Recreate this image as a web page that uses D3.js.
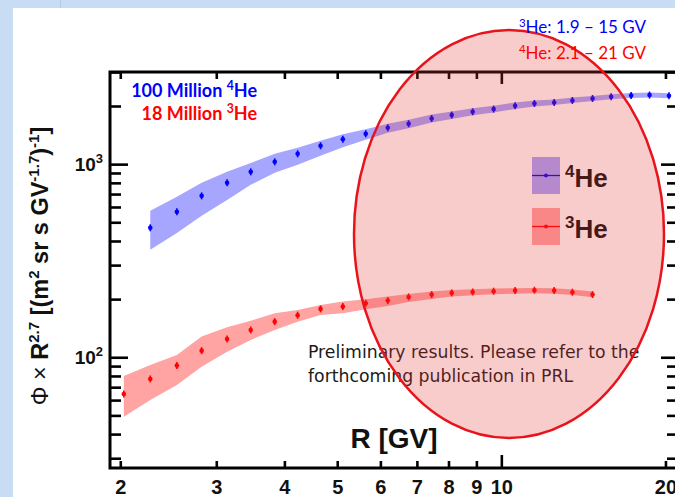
<!DOCTYPE html>
<html>
<head>
<meta charset="utf-8">
<script src="https://cdn.jsdelivr.net/npm/d3@7/dist/d3.min.js"></script>
<style>
  html, body { margin: 0; padding: 0; background: #c8dcf4; }
  svg { display: block; }
</style>
</head>
<body>
<svg id="chart" width="675" height="497"></svg>
<script>
// Helium isotope fluxes (Φ × R^2.7) versus rigidity
const rigidity4He = [2.27, 2.54, 2.82, 3.14, 3.47, 3.84, 4.23, 4.66, 5.12, 5.64, 6.19, 6.76, 7.45, 8.11, 8.86, 9.68, 10.6, 11.5, 12.5, 13.5, 14.7, 15.9, 17.3, 18.7, 20.3];
const flux4He = [468, 566, 685, 800, 912, 1028, 1131, 1244, 1345, 1435, 1542, 1618, 1723, 1795, 1866, 1927, 2005, 2061, 2085, 2136, 2188, 2233, 2268, 2279, 2259];
const band4HeHigh = [573, 677, 800, 912, 1015, 1131, 1215, 1321, 1428, 1514, 1617, 1697, 1807, 1871, 1946, 2004, 2086, 2136, 2161, 2214, 2254, 2301, 2337, 2348, 2327];
const band4HeLow = [360, 440, 540, 653, 781, 902, 992, 1104, 1222, 1336, 1453, 1533, 1643, 1711, 1790, 1853, 1928, 1989, 2024, 2073, 2124, 2167, 2201, 2212, 2193];

const rigidity3He = [2.03, 2.27, 2.54, 2.82, 3.14, 3.47, 3.84, 4.23, 4.66, 5.12, 5.64, 6.19, 6.76, 7.45, 8.11, 8.86, 9.68, 10.6, 11.5, 12.5, 13.5, 14.7];
const flux3He = [64.5, 77.2, 90.5, 108.2, 124.4, 138.5, 152.9, 165.1, 178.0, 182.9, 190.5, 196.5, 205.3, 211.1, 215.4, 217.9, 219.8, 221.4, 222.4, 221.4, 217.2, 211.1];
const band3HeHigh = [80.0, 91.2, 102.8, 128.2, 143.0, 154.7, 169.0, 175.9, 186.6, 194.2, 199.8, 206.1, 212.8, 218.7, 223.2, 225.1, 226.7, 227.8, 228.6, 227.8, 224.0, 218.7];
const band3HeLow = [49.2, 60.1, 71.9, 89.4, 106.9, 122.9, 138.5, 152.9, 165.7, 169.0, 177.3, 184.4, 193.4, 200.5, 206.1, 209.5, 212.0, 213.5, 214.6, 213.5, 210.3, 204.6];

const xTickValues = [2, 3, 4, 5, 6, 7, 8, 9, 10, 20];
const xMajorTicks = [10];
const yMajorTicks = [100, 1000];

const COLOR_4HE = "#0000ff", BAND_4HE = "#a6a6ff";
const COLOR_3HE = "#ff0000", BAND_3HE = "#ffa3a3";

const svg = d3.select("#chart");

// slide background and white panel
svg.append("rect").attr("x", 0).attr("y", 0).attr("width", 675).attr("height", 497).attr("fill", "#c8dcf4");
svg.append("line").attr("x1", 60.5).attr("x2", 60.5).attr("y1", 0).attr("y2", 8).attr("stroke", "#b6cbe6").attr("stroke-width", 1);
svg.append("rect").attr("x", 13).attr("y", 8).attr("width", 662).attr("height", 489).attr("fill", "#ffffff");

const plot = { left: 110, top: 72, right: 677, bottom: 468 };

const x = d3.scaleLog().domain([1.915, 21]).range([plot.left, plot.right]);
const y = d3.scaleLog().domain([26.7, 3000]).range([plot.bottom, plot.top]);

svg.append("clipPath").attr("id", "plotClip")
  .append("rect").attr("x", plot.left).attr("y", plot.top)
  .attr("width", plot.right - plot.left).attr("height", plot.bottom - plot.top);

const g = svg.append("g").attr("clip-path", "url(#plotClip)");

function drawSeries(rig, flux, lo, hi, bandColor, color) {
  const rows = rig.map((r, i) => ({ r, f: flux[i], lo: lo[i], hi: hi[i] }));
  const area = d3.area().x(d => x(d.r)).y0(d => y(d.lo)).y1(d => y(d.hi));
  g.append("path").datum(rows).attr("d", area).attr("fill", bandColor);
  const pts = g.append("g");
  pts.selectAll("line").data(rows).join("line")
    .attr("x1", d => x(d.r)).attr("x2", d => x(d.r))
    .attr("y1", d => y(d.f) - 3.5).attr("y2", d => y(d.f) + 3.5)
    .attr("stroke", color).attr("stroke-width", 1.6);
  pts.selectAll("circle").data(rows).join("circle")
    .attr("cx", d => x(d.r)).attr("cy", d => y(d.f)).attr("r", 2.3)
    .attr("fill", color);
}

drawSeries(rigidity4He, flux4He, band4HeLow, band4HeHigh, BAND_4HE, COLOR_4HE);
drawSeries(rigidity3He, flux3He, band3HeLow, band3HeHigh, BAND_3HE, COLOR_3HE);

// frame and inward ticks
const axes = svg.append("g");
const yMinor = y.ticks().filter(v => !yMajorTicks.includes(v));
const xMinor = xTickValues.filter(v => !xMajorTicks.includes(v));

function tickGroup(axisFn, scale, values, size, transform) {
  const a = axisFn(scale).tickValues(values).tickSize(size).tickFormat("");
  const sel = axes.append("g").attr("transform", transform).call(a);
  sel.select(".domain").remove();
  sel.selectAll(".tick line").attr("stroke", "#000").attr("stroke-width", 2.6);
  return sel;
}
tickGroup(d3.axisLeft, y, yMinor, -11, `translate(${plot.left},0)`);
tickGroup(d3.axisLeft, y, yMajorTicks, -18, `translate(${plot.left},0)`);
tickGroup(d3.axisRight, y, yMinor, -10, `translate(${plot.right},0)`);
tickGroup(d3.axisRight, y, yMajorTicks, -16, `translate(${plot.right},0)`);
tickGroup(d3.axisBottom, x, xMinor, -7, `translate(0,${plot.bottom})`);
tickGroup(d3.axisBottom, x, xMajorTicks, -13, `translate(0,${plot.bottom})`);
tickGroup(d3.axisTop, x, xMinor, -7, `translate(0,${plot.top})`);
tickGroup(d3.axisTop, x, xMajorTicks, -12, `translate(0,${plot.top})`);

axes.append("rect")
  .attr("x", plot.left).attr("y", plot.top)
  .attr("width", plot.right - plot.left).attr("height", plot.bottom - plot.top)
  .attr("fill", "none").attr("stroke", "#000").attr("stroke-width", 3);

// x tick labels
const xLabels = d3.axisBottom(x).tickValues(xTickValues).tickSize(0).tickPadding(0).tickFormat(d3.format("d"));
const xl = svg.append("g").attr("transform", `translate(0,${plot.bottom})`).call(xLabels);
xl.select(".domain").remove();
xl.selectAll(".tick text")
  .attr("y", 26).attr("dy", 0)
  .attr("font-family", "Liberation Sans, Arial, sans-serif")
  .attr("font-weight", "bold").attr("font-size", 20).attr("fill", "#111");

// y tick labels with superscript exponents
const yl = svg.append("g");
yMajorTicks.forEach(v => {
  const t = yl.append("text")
    .attr("x", 103).attr("y", y(v) + 7)
    .attr("text-anchor", "end")
    .attr("font-family", "Liberation Sans, Arial, sans-serif")
    .attr("font-weight", "bold").attr("font-size", 19).attr("fill", "#111");
  t.append("tspan").text("10");
  t.append("tspan").attr("dy", -8).attr("font-size", 13).text(Math.round(Math.log10(v)));
});

// axis titles
svg.append("text")
  .attr("x", 394).attr("y", 448).attr("text-anchor", "middle")
  .attr("font-family", "Liberation Sans, Arial, sans-serif")
  .attr("font-weight", "bold").attr("font-size", 28).attr("fill", "#111")
  .text("R [GV]");

const yt = svg.append("text")
  .attr("transform", "translate(48,266) rotate(-90)")
  .attr("text-anchor", "middle")
  .attr("font-family", "Liberation Sans, Arial, sans-serif")
  .attr("font-size", 23.5).attr("fill", "#111");
yt.append("tspan").text("Φ × ");
const ytb = yt.append("tspan").attr("font-weight", "bold");
ytb.append("tspan").text("R");
ytb.append("tspan").attr("dy", -9).attr("font-size", 15).text("2.7");
ytb.append("tspan").attr("dy", 9).text(" [(m");
ytb.append("tspan").attr("dy", -9).attr("font-size", 15).text("2");
ytb.append("tspan").attr("dy", 9).text(" sr s GV");
ytb.append("tspan").attr("dy", -9).attr("font-size", 15).text("-1.7");
ytb.append("tspan").attr("dy", 9).text(")");
ytb.append("tspan").attr("dy", -9).attr("font-size", 15).text("-1");
ytb.append("tspan").attr("dy", 9).text("]");

// event counts
function isoLabel(parent, xPos, yPos, pre, mass, post, color, size, weight, anchor) {
  const t = parent.append("text").attr("x", xPos).attr("y", yPos)
    .attr("text-anchor", anchor)
    .attr("font-family", "Lato, Open Sans, sans-serif")
    .attr("font-weight", weight).attr("font-size", size).attr("fill", color);
  t.append("tspan").text(pre);
  t.append("tspan").attr("dy", -size * 0.38).attr("font-size", size * 0.68).text(mass);
  t.append("tspan").attr("dy", size * 0.38).text(post);
  return t;
}
isoLabel(svg, 257, 97, "100 Million ", "4", "He", COLOR_4HE, 18, "bold", "end");
isoLabel(svg, 257, 120, "18 Million ", "3", "He", COLOR_3HE, 18, "bold", "end");

// legend
const legend = svg.append("g");
const legendRows = [
  { mass: "4", band: BAND_4HE, color: COLOR_4HE, y: 157 },
  { mass: "3", band: BAND_3HE, color: COLOR_3HE, y: 208 }
];
legendRows.forEach(d => {
  legend.append("rect").attr("x", 532).attr("y", d.y).attr("width", 28).attr("height", 37).attr("fill", d.band);
  legend.append("line").attr("x1", 532).attr("x2", 560).attr("y1", d.y + 18.5).attr("y2", d.y + 18.5)
    .attr("stroke", d.color).attr("stroke-width", 1.3);
  legend.append("circle").attr("cx", 546).attr("cy", d.y + 18.5).attr("r", 2).attr("fill", d.color);
  const t = legend.append("text").attr("x", 565).attr("y", d.y + 30)
    .attr("font-family", "Liberation Sans, Arial, sans-serif")
    .attr("font-weight", "bold").attr("font-size", 26).attr("fill", "#111");
  t.append("tspan").attr("dy", -10).attr("font-size", 17).text(d.mass);
  t.append("tspan").attr("dy", 10).text("He");
});

// disclaimer text
const note = svg.append("text")
  .attr("font-family", "DejaVu Sans, Verdana, sans-serif")
  .attr("font-size", 17.3).attr("fill", "#1a1a1a");
note.append("tspan").attr("x", 308).attr("y", 358).text("Preliminary results. Please refer to the");
note.append("tspan").attr("x", 308).attr("y", 382).text("forthcoming publication in PRL");

// highlight ellipse
svg.append("ellipse")
  .attr("cx", 509).attr("cy", 234).attr("rx", 155).attr("ry", 204)
  .attr("fill", "rgba(230,50,50,0.25)")
  .attr("stroke", "#e8141c").attr("stroke-width", 2.5);

// rigidity ranges
isoLabel(svg, 646, 33, "", "3", "He: 1.9 – 15 GV", COLOR_4HE, 17, "normal", "end");
isoLabel(svg, 646, 59, "", "4", "He: 2.1 – 21 GV", COLOR_3HE, 17, "normal", "end");
</script>
</body>
</html>
